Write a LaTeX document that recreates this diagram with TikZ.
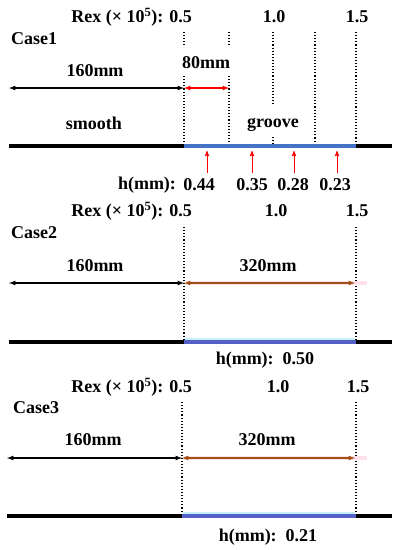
\documentclass[tikz,border=0pt]{standalone}
\usepackage{fontspec}
\setmainfont{Liberation Serif}
\usetikzlibrary{arrows}
\definecolor{plateblue}{RGB}{68,114,196}
\definecolor{deepblue}{RGB}{82,96,200}
\definecolor{dimbrown}{RGB}{160,80,20}
\definecolor{glowpink}{RGB}{255,225,235}
\definecolor{glowcyan}{RGB}{200,240,250}

\begin{document}
\begin{tikzpicture}[x=1pt,y=-1pt,
  lbl/.style={font=\fontsize{18}{20}\selectfont\bfseries,inner sep=1pt},
  guide/.style={dotted,line width=1.1pt},
  plate/.style={line width=4.5pt},
  dim/.style={<->,>=latex,line width=1.2pt}]
  \useasboundingbox (0,0) rectangle (398,550);

  % Case 1
  \node[lbl,anchor=east] (rexA) at (193,17) {Rex (× 10\textsuperscript{5}): 0.5};
  \node[lbl] (midA) at (274,17) {1.0};
  \node[lbl] (endA) at (357,17) {1.5};
  \node[lbl,anchor=west] (caseA) at (10,39) {Case1};
  \draw[guide] (184,32) -- (184,45) (184,76) -- (184,146);
  \draw[guide] (229,32) -- (229,45) (229,76) -- (229,146);
  \draw[guide] (273,32) -- (273,105) (273,137) -- (273,146);
  \draw[guide] (315,32) -- (315,146);
  \draw[guide] (356,32) -- (356,146);
  \node[lbl] (lenA) at (95,71) {160mm};
  \node[lbl] (grvA) at (206,63) {80mm};
  \coordinate (a0) at (9,88);
  \coordinate (a1) at (184,88);
  \coordinate (a2) at (229,88);
  \draw[dim] (a0) -- (a1);
  \draw[dim,red] (a1) -- (a2);
  \node[lbl] (smoothA) at (94,123) {smooth};
  \node[lbl] (grooveA) at (273,125) {groove};
  \draw[plate] (9,146) -- (184,146);
  \draw[plate,plateblue] (184,146) -- (356,146);
  \draw[plate] (356,146) -- (392,146);
  \foreach \x in {207,252,294,337}
    \draw[red,->,>=stealth',line width=.9pt] (\x,173) -- (\x,151);
  \node[lbl] (hA) at (147,185) {h(mm):};
  \node[lbl] (hA1) at (199,185) {0.44};
  \node[lbl] (hA2) at (252,185) {0.35};
  \node[lbl] (hA3) at (293,185) {0.28};
  \node[lbl] (hA4) at (335,185) {0.23};

  % Case 2
  \node[lbl,anchor=east] (rexB) at (193,211) {Rex (× 10\textsuperscript{5}): 0.5};
  \node[lbl] (midB) at (276,211) {1.0};
  \node[lbl] (endB) at (357,211) {1.5};
  \node[lbl,anchor=west] (caseB) at (10,233) {Case2};
  \draw[guide] (184,227) -- (184,343);
  \draw[guide] (356,227) -- (356,343);
  \node[lbl] (lenB) at (95,266) {160mm};
  \node[lbl] (grvB) at (268,266) {320mm};
  \coordinate (b0) at (9,283);
  \coordinate (b1) at (184,283);
  \coordinate (b2) at (355,283);
  \draw[glowpink,line width=4pt] (186,283) -- (367,283);
  \draw[dim] (b0) -- (b1);
  \draw[dim,dimbrown] (b1) -- (b2);
  \draw[glowcyan,line width=2pt] (185,339) -- (355,339);
  \draw[plate] (9,342) -- (184,342);
  \draw[plate,deepblue] (184,342) -- (356,342);
  \draw[plate] (356,342) -- (392,342);
  \node[lbl] (hB) at (265,360) {h(mm):\, 0.50};

  % Case 3
  \node[lbl,anchor=east] (rexC) at (193,387) {Rex (× 10\textsuperscript{5}): 0.5};
  \node[lbl] (midC) at (278,387) {1.0};
  \node[lbl] (endC) at (358,387) {1.5};
  \node[lbl,anchor=west] (caseC) at (12,408) {Case3};
  \draw[guide] (182,402) -- (182,517);
  \draw[guide] (356,402) -- (356,517);
  \node[lbl] (lenC) at (93,440) {160mm};
  \node[lbl] (grvC) at (267,440) {320mm};
  \coordinate (c0) at (7,458);
  \coordinate (c1) at (182,458);
  \coordinate (c2) at (355,458);
  \draw[glowpink,line width=4pt] (184,458) -- (367,458);
  \draw[dim] (c0) -- (c1);
  \draw[dim,dimbrown] (c1) -- (c2);
  \draw[glowcyan,line width=2pt] (183,513) -- (355,513);
  \draw[plate] (7,516) -- (182,516);
  \draw[plate,deepblue] (182,516) -- (356,516);
  \draw[plate] (356,516) -- (392,516);
  \node[lbl] (hC) at (268,537) {h(mm):\, 0.21};
\end{tikzpicture}
\end{document}
